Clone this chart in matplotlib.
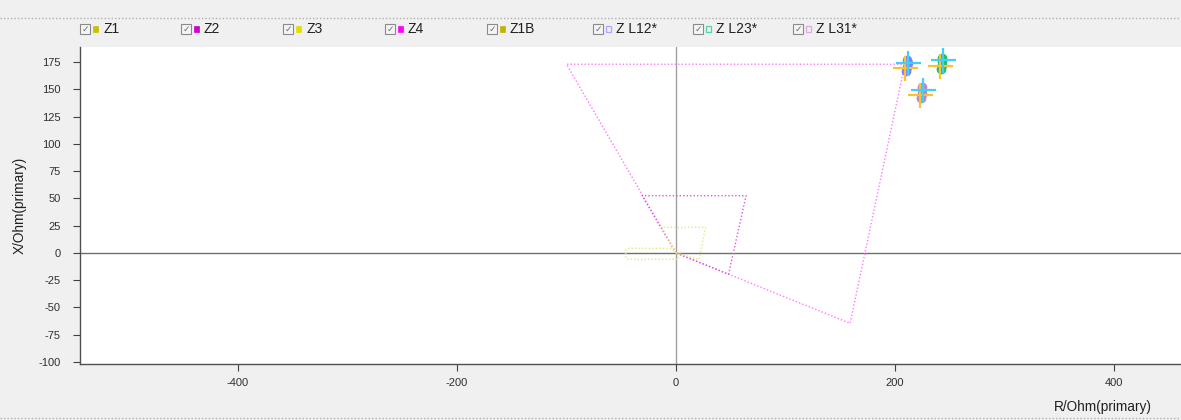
import matplotlib
matplotlib.use("Agg")
import matplotlib.pyplot as plt
from matplotlib.lines import Line2D
from matplotlib.patches import Rectangle

plt.rcParams["font.family"] = ["Liberation Sans", "DejaVu Sans"]
plt.rcParams["axes.unicode_minus"] = False

# zone outlines (R, X) in Ohm primary
z1_r = [0, -13, 27, 21, 0]
z1_x = [0, 23.5, 23.5, -6, 0]
z1b_r = [0, -4, -44, -46, -46, -44, 2, 2, 0]
z1b_x = [0, 4.3, 4.3, 2.5, -4, -5.8, -5.8, -1, 0]
z2_r = [0, -31, 64, 48, 0]
z2_x = [0, 52.5, 52.5, -19.5, 0]
z4_r = [0, -100, 209, 159, 0]
z4_x = [0, 173, 173, -64.5, 0]

# measured loop impedances
l12_r = [210.5, 211, 211.5, 211]
l12_x = [167, 170.5, 174, 177]
l23_r = [242, 242.5, 243, 242.5]
l23_x = [169, 172.5, 176, 179]
l31_r = [224, 224.5, 225, 224.5]
l31_x = [142, 145.5, 149, 152]

legend_names = ["Z1", "Z2", "Z3", "Z4", "Z1B", "Z L12*", "Z L23*", "Z L31*"]
legend_colors = ["#c8c000", "#cc00cc", "#e0e000", "#ff00ff", "#c0b400",
                 "#a8a8ff", "#50d8a0", "#e0a8e0"]
legend_filled = [True, True, True, True, True, False, False, False]
legend_x = [80, 181, 283, 385, 487, 593, 693, 793]

W, H = 1181, 420
fig = plt.figure(figsize=(W / 100, H / 100), dpi=100)
fig.patch.set_facecolor("#f0f0f0")

ax = fig.add_axes([80 / W, (H - 364) / H, (W - 80) / W, (364 - 47) / H])
ax.set_facecolor("white")
ax.set_xlim(-544.3, 461.2)
ax.set_ylim(-101.8, 188.8)

ax.axhline(0, color="#707070", lw=1.0, zorder=1)
ax.axvline(0, color="#a0a0a0", lw=1.0, zorder=1)

ax.plot(z4_r, z4_x, ls=(0, (1, 1.5)), color="#ff77ff", lw=1.0, zorder=2)
ax.plot(z2_r, z2_x, ls=(0, (1, 1.5)), color="#dd55dd", lw=1.0, zorder=2)
ax.plot(z1_r, z1_x, ls=(0, (1, 1.5)), color="#e8e870", lw=1.0, zorder=2)
ax.plot(z1b_r, z1b_x, ls=(0, (1, 1.5)), color="#e8e870", lw=1.0, zorder=2)

for rr, xx, c in [(l12_r, l12_x, "#8080ff"), (l23_r, l23_x, "#20c060"),
                  (l31_r, l31_x, "#b888c8")]:
    ax.plot(rr, xx, "o", color=c, ms=7, mec="none", zorder=3)
    r0, x0 = rr[1], xx[1]
    ax.plot([r0 - 1.5], [x0 - 1], "+", color="#ffc030", ms=18, mew=1.6, zorder=4)
    ax.plot([r0 + 1], [x0 + 4], "+", color="#40d0ff", ms=18, mew=1.6, zorder=4)

ax.set_xticks([-400, -200, 0, 200, 400])
ax.set_yticks([-100, -75, -50, -25, 0, 25, 50, 75, 100, 125, 150, 175])
ax.tick_params(axis="x", length=5, pad=5, labelsize=8, colors="#404040",
               labelcolor="#303030")
ax.tick_params(axis="y", length=5, pad=9, labelsize=8, colors="#404040",
               labelcolor="#303030")
for s in ["top", "right"]:
    ax.spines[s].set_visible(False)
for s in ["left", "bottom"]:
    ax.spines[s].set_color("#505050")
    ax.spines[s].set_linewidth(1.0)

fig.text(20 / W, 1 - 205 / H, "X/Ohm(primary)", rotation=90, ha="center",
         va="center", fontsize=9.8, color="#202020")
fig.text(1152 / W, 1 - 407 / H, "R/Ohm(primary)", ha="right", va="center",
         fontsize=9.8, color="#202020")

# dotted separators
fig.add_artist(Line2D([0, 1], [1 - 18 / H, 1 - 18 / H], color="#b0b0b0",
                      lw=1, ls=(0, (1, 1.5)), transform=fig.transFigure))
fig.add_artist(Line2D([0, 1], [1 - 418 / H, 1 - 418 / H], color="#b0b0b0",
                      lw=1, ls=(0, (1, 1.5)), transform=fig.transFigure))

# legend row
ly = 29
for name, c, filled, lx in zip(legend_names, legend_colors, legend_filled, legend_x):
    fig.add_artist(Rectangle((lx / W, 1 - (ly + 5) / H), 10 / W, 10 / H,
                             fc="#f4f4f4", ec="#8a8a8a", lw=0.8,
                             transform=fig.transFigure))
    fig.text((lx + 5) / W, 1 - ly / H, "✓", ha="center", va="center",
             fontsize=6.5, color="#707070")
    if filled:
        fig.add_artist(Rectangle(((lx + 13) / W, 1 - (ly + 3) / H), 5 / W, 6 / H,
                                 fc=c, ec=c, lw=0.5, transform=fig.transFigure))
    else:
        fig.add_artist(Rectangle(((lx + 13) / W, 1 - (ly + 3) / H), 5 / W, 6 / H,
                                 fc="none", ec=c, lw=0.9, transform=fig.transFigure))
    fig.text((lx + 23) / W, 1 - ly / H, name, ha="left", va="center",
             fontsize=10, color="#202020")

fig.savefig("out.png", dpi=100, facecolor=fig.get_facecolor())
